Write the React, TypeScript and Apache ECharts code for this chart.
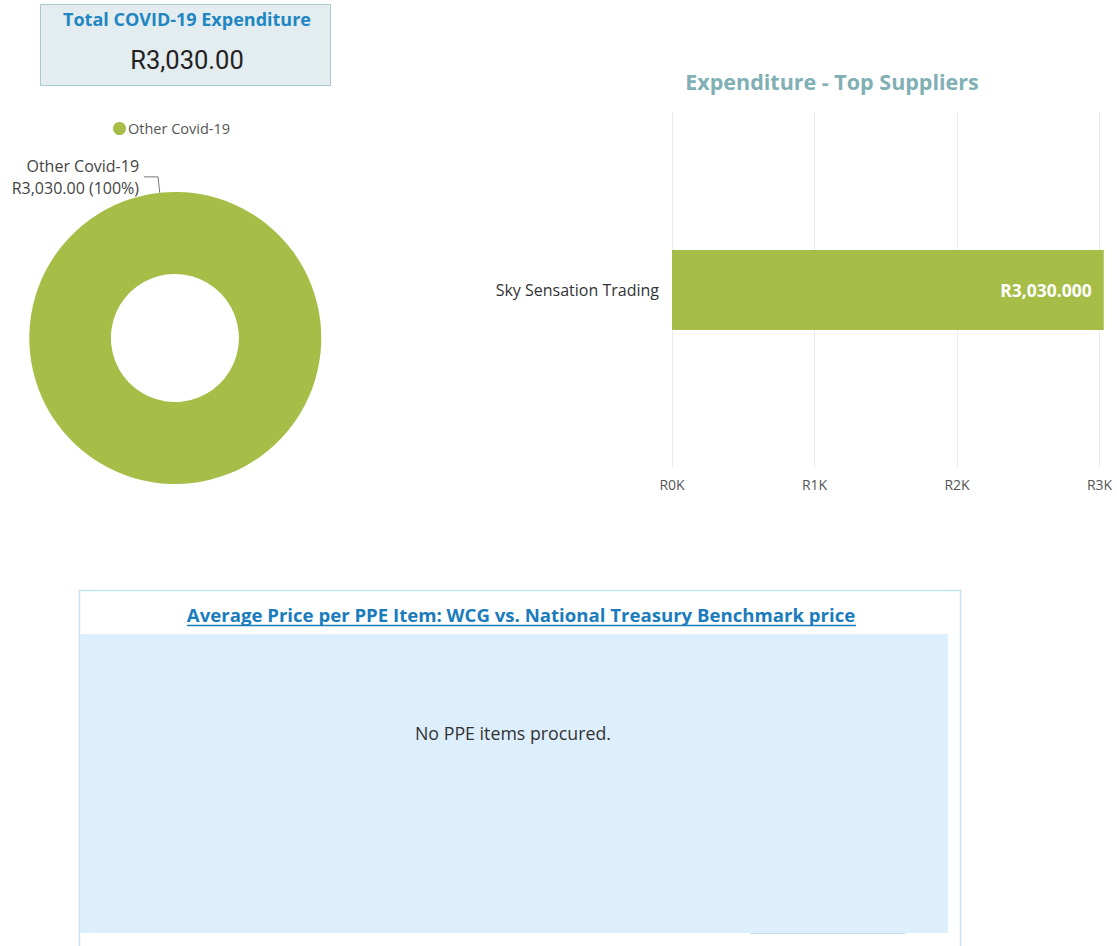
import React, { useEffect, useRef } from "react";
import * as echarts from "echarts";

const kpiTitle = "Total COVID-19 Expenditure";
const kpiValue = "R3,030.00";

const pieCategories = ["Other Covid-19"];
const pieValues = [3030];

const supplierCategories = ["Sky Sensation Trading"];
const supplierValues = [3030];
const supplierTicks = [0, 1000, 2000, 3000];

const barTitle = "Expenditure - Top Suppliers";
const ppeTitle = "Average Price per PPE Item: WCG vs. National Treasury Benchmark price";
const ppeMessage = "No PPE items procured.";

const FONT = '"Open Sans", "Noto Sans", sans-serif';
const GREEN = "#a6bd47";

function fmtR(v: number, d: number) {
  return "R" + v.toLocaleString("en-US", { minimumFractionDigits: d, maximumFractionDigits: d });
}

export default function App() {
  const ref = useRef<HTMLDivElement>(null);
  useEffect(() => {
    if (!ref.current) return;
    const chart = echarts.init(ref.current, undefined, { renderer: "svg" });
    const option: any = {
      animation: false,
      backgroundColor: "#ffffff",
      textStyle: { fontFamily: FONT },
      legend: {
        left: 113,
        top: 121,
        padding: 0,
        data: pieCategories,
        icon: "circle",
        itemWidth: 13,
        itemHeight: 13,
        itemGap: 10,
        textStyle: { fontSize: 14.5, color: "#555", fontFamily: FONT, padding: [0, 0, 0, -3] },
        selectedMode: false,
      },
      grid: { left: 672, width: 427.5, top: 112, height: 356 },
      xAxis: {
        type: "value",
        min: supplierTicks[0],
        max: supplierTicks[supplierTicks.length - 1],
        interval: 1000,
        axisLine: { show: false },
        axisTick: { show: false },
        splitLine: { lineStyle: { color: "#ebebeb", width: 1 } },
        axisLabel: {
          color: "#555",
          fontSize: 14,
          margin: 9,
          fontFamily: FONT,
          formatter: (v: number) => "R" + v / 1000 + "K",
        },
      },
      yAxis: {
        type: "category",
        data: supplierCategories,
        axisLine: { show: false },
        axisTick: { show: false },
        axisLabel: { color: "#333", fontSize: 16, margin: 13, fontFamily: FONT },
      },
      series: [
        {
          type: "pie",
          name: "pie",
          center: [175, 338],
          radius: [64, 146],
          startAngle: 276,
          silent: true,
          avoidLabelOverlap: false,
          data: pieCategories.map((c, i) => ({ name: c, value: pieValues[i], itemStyle: { color: GREEN } })),
          label: {
            show: true,
            color: "#444",
            fontSize: 16,
            lineHeight: 22,
            fontFamily: FONT,
            alignTo: "none",
            formatter: (p: any) => p.name + "\n" + fmtR(p.value, 2) + " (" + Math.round(p.percent) + "%)",
          },
          labelLine: { show: true, length: 16, length2: 14, lineStyle: { color: "#777", width: 1 } },
        },
        {
          type: "bar",
          data: supplierValues,
          barWidth: 80,
          clip: false,
          silent: true,
          itemStyle: { color: GREEN },
          label: {
            show: true,
            position: "insideRight",
            distance: 12,
            color: "#fff",
            fontWeight: "bold",
            fontSize: 17.5,
            fontFamily: FONT,
            formatter: (p: any) => fmtR(p.value, 3),
          },
        },
      ],
      graphic: [
        {
          type: "rect",
          shape: { x: 40.5, y: 4.5, width: 290, height: 81 },
          style: { fill: "#e3ecee", stroke: "#a8c9cf", lineWidth: 1 },
          silent: true,
        },
        {
          type: "text",
          x: 187,
          y: 19,
          style: {
            text: kpiTitle,
            fill: "#1e86c2",
            font: 'bold 18px "Open Sans", sans-serif',
            align: "center",
            verticalAlign: "middle",
            textAlign: "center",
            textVerticalAlign: "middle",
          },
          silent: true,
        },
        {
          type: "text",
          x: 187,
          y: 60,
          style: {
            text: kpiValue,
            fill: "#222",
            font: '25.5px Roboto, sans-serif',
            align: "center",
            verticalAlign: "middle",
            textAlign: "center",
            textVerticalAlign: "middle",
          },
          silent: true,
        },
        {
          type: "text",
          x: 832,
          y: 81,
          style: {
            text: barTitle,
            fill: "#80afb4",
            font: 'bold 21.5px "Open Sans", sans-serif',
            align: "center",
            verticalAlign: "middle",
            textAlign: "center",
            textVerticalAlign: "middle",
          },
          silent: true,
        },
        {
          type: "rect",
          shape: { x: 79.5, y: 590.5, width: 881, height: 400 },
          style: { fill: "#ffffff", stroke: "#c6e3f4", lineWidth: 1.5 },
          silent: true,
        },
        {
          type: "rect",
          shape: { x: 80, y: 634, width: 868, height: 299 },
          style: { fill: "#ddeffd" },
          silent: true,
        },
        {
          type: "line",
          shape: { x1: 750, y1: 933.5, x2: 905, y2: 933.5 },
          style: { stroke: "#c3def2", lineWidth: 1 },
          silent: true,
        },
        {
          type: "text",
          x: 521,
          y: 614,
          style: {
            text: ppeTitle,
            fill: "#1a7cbd",
            font: 'bold 18.6px "Open Sans", sans-serif',
            align: "center",
            verticalAlign: "middle",
            textAlign: "center",
            textVerticalAlign: "middle",
          },
          silent: true,
        },
        {
          type: "line",
          shape: { x1: 187, y1: 625.5, x2: 856, y2: 625.5 },
          style: { stroke: "#1a7cbd", lineWidth: 1.3 },
          silent: true,
        },
        {
          type: "text",
          x: 513,
          y: 733,
          style: {
            text: ppeMessage,
            fill: "#333",
            font: '17.8px "Open Sans", sans-serif',
            align: "center",
            verticalAlign: "middle",
            textAlign: "center",
            textVerticalAlign: "middle",
          },
          silent: true,
        },
      ],
    };
    chart.setOption(option);
    return () => chart.dispose();
  }, []);
  return (
    <div
      ref={ref}
      style={{ position: "absolute", left: 0, top: 0, width: 1117, height: 946, background: "#fff" }}
    />
  );
}
